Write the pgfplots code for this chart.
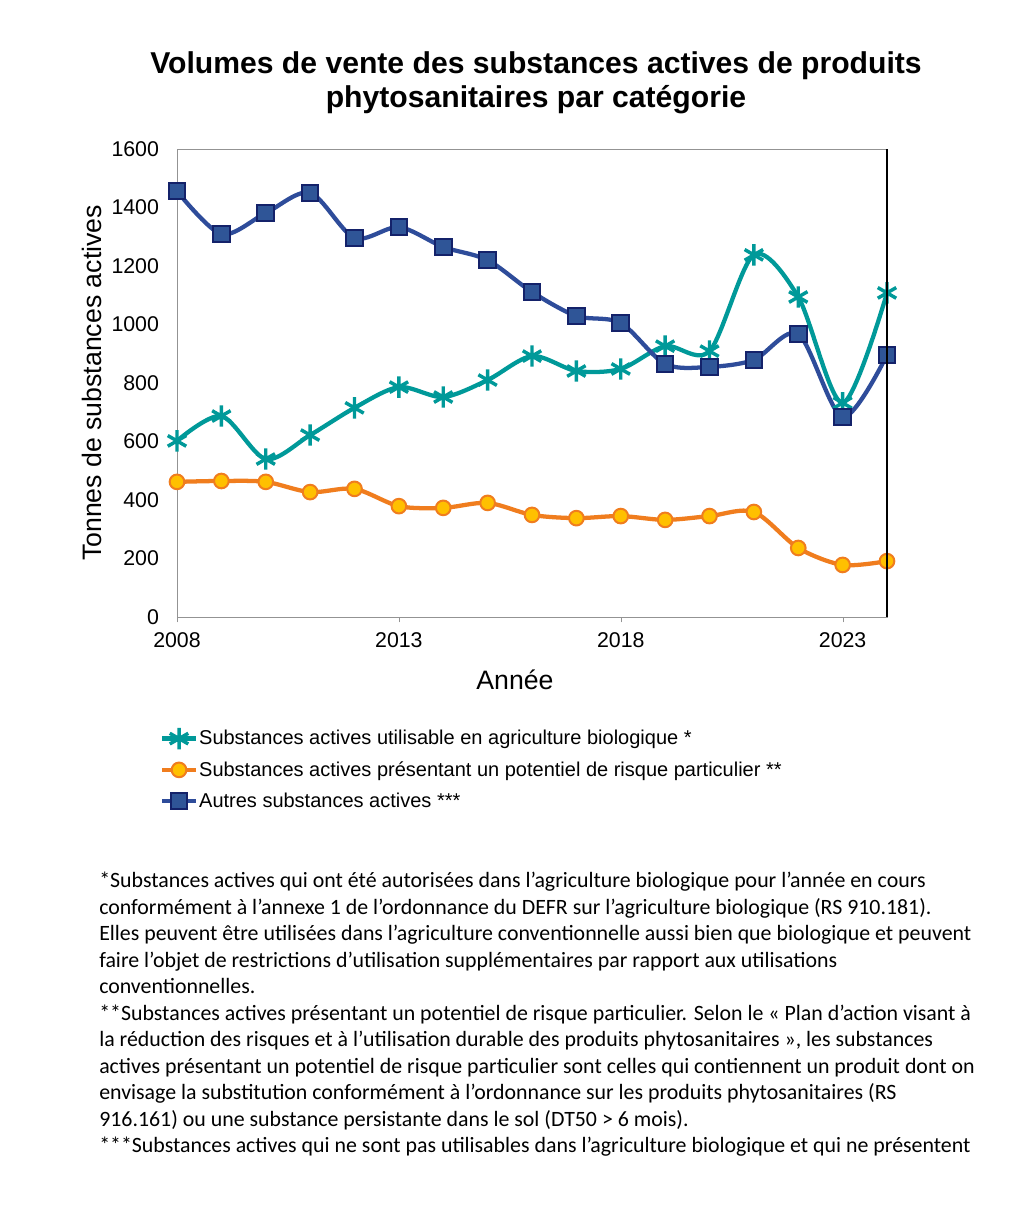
\documentclass[border=0pt]{standalone}
\usepackage{pgfplots}
\pgfplotsset{compat=1.18}
\usepackage{fontspec}
\setmainfont{Liberation Sans}
\newfontfamily\notefont{Carlito}

\definecolor{bioteal}{HTML}{009999}
\definecolor{risqorange}{HTML}{F07D1E}
\definecolor{risqfill}{HTML}{FFC000}
\definecolor{autreblue}{HTML}{2E4C9A}
\definecolor{autrefill}{HTML}{2F5597}
\definecolor{autreedge}{HTML}{14226A}

\pgfplotstableread{
annee bio risque autres
2008 602 462 1456
2009 687 465 1309
2010 540 462 1381
2011 622 427 1450
2012 715 438 1296
2013 786 379 1333
2014 752 373 1265
2015 810 390 1220
2016 892 349 1111
2017 841 338 1029
2018 848 345 1005
2019 926 332 865
2020 909 345 855
2021 1238 359 879
2022 1094 236 967
2023 732 178 684
2024 1108 191 896
}\ventes

\begin{document}
\begin{tikzpicture}[x=0.75pt,y=0.75pt]
\path[fill=white] (0,0) rectangle (1024,1210);

% titre
\node[align=center,font=\bfseries\fontsize{22.6}{25.5}\selectfont] at (536,1127)
  {Volumes de vente des substances actives de produits\\phytosanitaires par catégorie};

% titres des axes
\node[rotate=90,font=\fontsize{20}{23}\selectfont] at (92,827) {Tonnes de substances actives};
\node[font=\fontsize{20}{23}\selectfont] at (515,530) {Année};

\begin{axis}[
  at={(132.75pt,444.75pt)},
  anchor=south west,
  scale only axis,
  width=532.5pt, height=351pt,
  xmin=2008, xmax=2024,
  ymin=0, ymax=1600,
  xtick={2008,2013,2018,2023},
  ytick distance=200,
  /pgf/number format/1000 sep={},
  /pgf/number format/assume math mode=true,
  ticklabel style={font=\fontsize{16}{18}\selectfont},
  axis line style={draw=gray!85},
  tick style={draw=gray!85},
  xtick pos=bottom, ytick pos=left,
  tick align=outside,
  major tick length=4pt,
  y tick style={draw=none},
  yticklabel style={xshift=-6pt},
  xticklabel style={yshift=-4pt},
  after end axis/.code={\draw[black,line width=1.1pt] (rel axis cs:1,0) -- (rel axis cs:1,1);},
  legend style={at={(axis description cs:-0.024,-0.236)}, anchor=north west,
    draw=none, fill=none, font=\fontsize{15}{17}\selectfont,
    row sep=7pt, inner sep=0pt, nodes={inner xsep=1pt}},
  legend cell align=left,
  legend image code/.code={\draw[mark repeat=2,mark phase=2] plot coordinates {(0pt,0pt) (12.5pt,0pt) (25pt,0pt)};},
]
\addplot[bioteal, line width=3.2pt, smooth, tension=0.5,
  mark=asterisk, mark size=8pt, mark options={line width=2.6pt}]
  table[x=annee,y=bio] {\ventes};
\addlegendentry{Substances actives utilisable en agriculture biologique *}

\addplot[risqorange, line width=3.2pt, smooth, tension=0.5,
  mark=*, mark size=5.5pt, mark options={fill=risqfill, draw=risqorange, line width=1.5pt}]
  table[x=annee,y=risque] {\ventes};
\addlegendentry{Substances actives présentant un potentiel de risque particulier **}

\addplot[autreblue, line width=3.2pt, smooth, tension=0.5,
  mark=square*, mark size=6.2pt, mark options={fill=autrefill, draw=autreedge, line width=1.5pt}]
  table[x=annee,y=autres] {\ventes};
\addlegendentry{Autres substances actives ***}
\end{axis}

% notes
\node[anchor=north west, inner sep=0pt, align=left,
  font=\notefont\fontsize{16.4}{19.875}\selectfont] at (99,338) {%
*Substances actives qui ont été autorisées dans l’agriculture biologique pour l’année en cours\\
conformément à l’annexe 1 de l’ordonnance du DEFR sur l’agriculture biologique (RS 910.181).\\
Elles peuvent être utilisées dans l’agriculture conventionnelle aussi bien que biologique et peuvent\\
faire l’objet de restrictions d’utilisation supplémentaires par rapport aux utilisations\\
conventionnelles.\\
**Substances actives présentant un potentiel de risque particulier. Selon le « Plan d’action visant à\\
la réduction des risques et à l’utilisation durable des produits phytosanitaires », les substances\\
actives présentant un potentiel de risque particulier sont celles qui contiennent un produit dont on\\
envisage la substitution conformément à l’ordonnance sur les produits phytosanitaires (RS\\
916.161) ou une substance persistante dans le sol (DT50 > 6 mois).\\
***Substances actives qui ne sont pas utilisables dans l’agriculture biologique et qui ne présentent};
\end{tikzpicture}
\end{document}
